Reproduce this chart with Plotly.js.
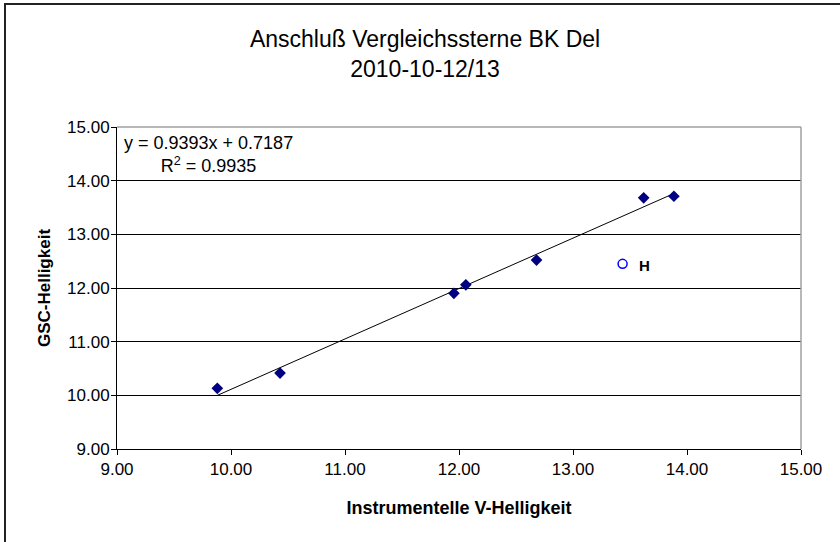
<!DOCTYPE html>
<html>
<head>
<meta charset="utf-8">
<script src="https://cdn.plot.ly/plotly-3.0.1.min.js"></script>
<style>
  html, body { margin: 0; padding: 0; background: #fff; }
  #wrap { position: relative; width: 840px; height: 542px; }
  #chart { position: absolute; left: 0; top: 0; width: 840px; height: 542px; }
  #frame { position: absolute; left: 4px; top: 3px; width: 845px; height: 537px;
           border-left: 2px solid #222; border-top: 2px solid #222; border-bottom: 1px solid #888; pointer-events: none; }
</style>
</head>
<body>
<div id="wrap"><div id="chart"></div><div id="frame"></div></div>
<script>
// Comparison stars: instrumental V magnitude vs GSC magnitude
const instrumentalV = [9.88, 10.43, 11.955, 12.06, 12.68, 13.62, 13.885];
const gscMag        = [10.13, 10.415, 11.90, 12.06, 12.52, 13.68, 13.71];
// Star H (excluded from fit)
const hX = [13.435];
const hY = [12.45];
const hLabel = 'H';
// Trendline coefficients (as given in the chart)
const slope = 0.9393;
const intercept = 0.7187;
const r2 = 0.9935;
const tickVals = [9, 10, 11, 12, 13, 14, 15];

const xMin = Math.min(...instrumentalV), xMax = Math.max(...instrumentalV);
const trendX = [xMin, xMax];
const trendY = trendX.map(v => slope * v + intercept);

const font = 'Liberation Sans, Arial, sans-serif';

const traces = [
  { x: trendX, y: trendY, mode: 'lines', type: 'scatter',
    line: { color: '#000', width: 1 }, hoverinfo: 'skip', showlegend: false },
  { x: instrumentalV, y: gscMag, mode: 'markers', type: 'scatter',
    marker: { symbol: 'diamond', size: 9, color: '#000080' }, showlegend: false },
  { x: hX, y: hY, mode: 'markers', type: 'scatter',
    marker: { symbol: 'circle-open', size: 9, color: '#0000ff', line: { width: 1.5, color: '#0000ff' } },
    showlegend: false }
];

const layout = {
  width: 840, height: 542,
  margin: { l: 117, r: 39, t: 127, b: 93 },
  paper_bgcolor: '#fff', plot_bgcolor: '#fff',
  font: { family: font, size: 17, color: '#000' },
  title: { text: 'Anschluß Vergleichssterne BK Del<br>2010-10-12/13',
           font: { family: font, size: 23, color: '#000' },
           x: 0.506, xref: 'container', xanchor: 'center',
           y: 1 - 47 / 542, yref: 'container', yanchor: 'middle' },
  xaxis: {
    range: [9, 15], tickvals: tickVals, tickformat: '.2f',
    showgrid: false, zeroline: false,
    showline: true, linecolor: '#000', linewidth: 1,
    ticks: 'outside', ticklen: 5, tickcolor: '#000',
    tickfont: { family: font, size: 17, color: '#000' },
    title: { text: 'Instrumentelle V-Helligkeit', standoff: 22,
             font: { family: font, size: 18, color: '#000', weight: 'bold' } }
  },
  yaxis: {
    range: [9, 15], tickvals: tickVals, tickformat: '.2f',
    showgrid: true, gridcolor: '#000', gridwidth: 1, zeroline: false,
    showline: true, linecolor: '#000', linewidth: 1,
    ticks: 'outside', ticklen: 5, tickcolor: '#000', ticklabelstandoff: -2,
    tickfont: { family: font, size: 17, color: '#000' },
    title: { text: 'GSC-Helligkeit', standoff: 12,
             font: { family: font, size: 17, color: '#000', weight: 'bold' } }
  },
  shapes: [
    { type: 'line', xref: 'paper', yref: 'paper', x0: 0, x1: 1, y0: 1, y1: 1,
      line: { color: '#a0a0a0', width: 1.5 } },
    { type: 'line', xref: 'paper', yref: 'paper', x0: 1, x1: 1, y0: 0, y1: 1,
      line: { color: '#a0a0a0', width: 1.5 } }
  ],
  annotations: [
    { xref: 'paper', yref: 'paper', x: 0.134, y: 0.914, xanchor: 'center', yanchor: 'middle',
      align: 'center', showarrow: false,
      text: 'y = ' + slope.toFixed(4) + 'x + ' + intercept.toFixed(4) + '<br>R<sup>2</sup> = ' + r2.toFixed(4),
      font: { family: font, size: 18, color: '#000' } },
    { xref: 'x', yref: 'y', x: hX[0], y: hY[0], xanchor: 'left', yanchor: 'middle',
      xshift: 14, yshift: -2, showarrow: false, text: hLabel,
      font: { family: font, size: 15, color: '#000', weight: 'bold' } }
  ]
};

Plotly.newPlot('chart', traces, layout, { displayModeBar: false, staticPlot: true });
</script>
</body>
</html>
